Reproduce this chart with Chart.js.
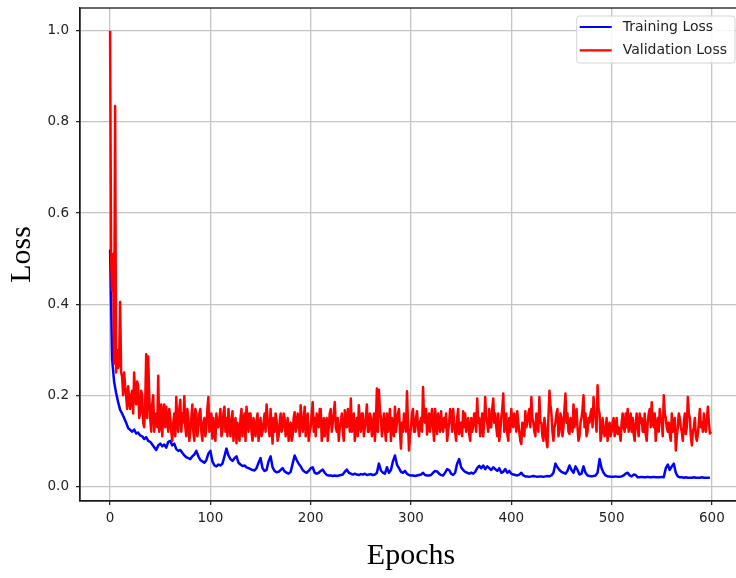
<!DOCTYPE html>
<html>
<head>
<meta charset="utf-8">
<title>Loss curves</title>
<script src="https://cdn.jsdelivr.net/npm/chart.js@4.4.0/dist/chart.umd.min.js"></script>
<style>
  html, body { margin: 0; padding: 0; background: #fff; overflow: hidden; }
  #wrap { width: 752px; height: 578px; }
</style>
</head>
<body>
<div id="wrap"><canvas id="loss-canvas" width="752" height="578"></canvas></div>
<script>
'use strict';

// training loss logged every 2 epochs, validation every epoch (both start at 0)
const TRAIN_STEP = 2;
const VAL_STEP = 1;
const X_TICKS = [0, 100, 200, 300, 400, 500, 600];
const Y_TICKS = [0, 0.2, 0.4, 0.6, 0.8, 1.0];

const TRAIN_LOSS = [
  0.52, 0.28, 0.23, 0.205, 0.185, 0.168, 0.16, 0.15, 0.14, 0.128,
  0.124, 0.12, 0.125, 0.116, 0.118, 0.112, 0.11, 0.104, 0.108, 0.1,
  0.098, 0.092, 0.086, 0.08, 0.09, 0.094, 0.088, 0.092, 0.085, 0.098,
  0.1, 0.09, 0.094, 0.082, 0.078, 0.08, 0.074, 0.068, 0.064, 0.062,
  0.06, 0.066, 0.07, 0.078, 0.066, 0.058, 0.055, 0.052, 0.058, 0.072,
  0.078, 0.055, 0.046, 0.044, 0.048, 0.046, 0.05, 0.066, 0.083, 0.068,
  0.06, 0.056, 0.062, 0.066, 0.052, 0.048, 0.045, 0.046, 0.042, 0.04,
  0.038, 0.036, 0.035, 0.04, 0.052, 0.062, 0.04, 0.034, 0.036, 0.055,
  0.066, 0.042, 0.034, 0.031, 0.032, 0.036, 0.04, 0.033, 0.03, 0.028,
  0.032, 0.05, 0.068, 0.058, 0.05, 0.044, 0.036, 0.032, 0.03, 0.034,
  0.04, 0.042, 0.03, 0.028, 0.03, 0.034, 0.037, 0.03, 0.025, 0.024,
  0.024, 0.023, 0.024, 0.023, 0.024, 0.025, 0.026, 0.032, 0.037, 0.03,
  0.028, 0.026, 0.028, 0.026, 0.025, 0.027, 0.026, 0.028, 0.025, 0.026,
  0.027, 0.025, 0.026, 0.03, 0.05, 0.035, 0.03, 0.028, 0.042, 0.03,
  0.036, 0.055, 0.068, 0.048, 0.04, 0.032, 0.03, 0.034, 0.028, 0.025,
  0.024, 0.024, 0.023, 0.024, 0.025, 0.026, 0.03, 0.025, 0.024, 0.024,
  0.025, 0.03, 0.034, 0.033, 0.028, 0.025, 0.024, 0.03, 0.038, 0.036,
  0.028, 0.025, 0.03, 0.05, 0.06, 0.042, 0.036, 0.032, 0.03, 0.028,
  0.03, 0.028, 0.032, 0.04, 0.045, 0.04, 0.046, 0.038, 0.044, 0.04,
  0.036, 0.042, 0.038, 0.034, 0.04, 0.03, 0.032, 0.038, 0.03, 0.034,
  0.028, 0.026, 0.025, 0.024, 0.026, 0.03, 0.024, 0.022, 0.022, 0.021,
  0.022, 0.023, 0.022, 0.021, 0.022, 0.022, 0.021, 0.022, 0.023, 0.022,
  0.024, 0.03, 0.05, 0.042, 0.036, 0.032, 0.03, 0.028, 0.034, 0.046,
  0.036, 0.03, 0.044, 0.036, 0.026, 0.028, 0.044, 0.03, 0.024, 0.023,
  0.022, 0.023, 0.024, 0.03, 0.06, 0.04, 0.03, 0.024, 0.022, 0.022,
  0.021, 0.021, 0.022, 0.021, 0.021, 0.022, 0.024, 0.028, 0.03, 0.024,
  0.022, 0.026, 0.025, 0.02, 0.02, 0.021, 0.02, 0.02, 0.021, 0.02,
  0.02, 0.021, 0.02, 0.02, 0.02, 0.021, 0.02, 0.04, 0.048, 0.036,
  0.044, 0.05, 0.03, 0.022, 0.02, 0.02, 0.019, 0.02, 0.019, 0.019,
  0.019, 0.02, 0.019, 0.019, 0.019, 0.02, 0.019, 0.019, 0.019, 0.019
];

const VAL_LOSS = [
  1.0, 0.5, 0.43, 0.51, 0.27, 0.835, 0.25, 0.3, 0.26, 0.27, 0.405, 0.25, 0.24, 0.2, 0.25, 0.22, 0.2, 0.17, 0.22, 0.19,
  0.17, 0.2, 0.21, 0.16, 0.25, 0.2, 0.18, 0.23, 0.22, 0.15, 0.16, 0.21, 0.2, 0.14, 0.13, 0.18, 0.29, 0.15, 0.285, 0.2,
  0.15, 0.12, 0.18, 0.2, 0.12, 0.15, 0.16, 0.13, 0.243, 0.12, 0.14, 0.18, 0.11, 0.16, 0.18, 0.13, 0.175, 0.14, 0.12, 0.17,
  0.15, 0.12, 0.1, 0.14, 0.16, 0.11, 0.196, 0.14, 0.12, 0.17, 0.19, 0.12, 0.16, 0.14, 0.198, 0.13, 0.11, 0.17, 0.15, 0.1,
  0.12, 0.15, 0.18, 0.12, 0.1, 0.17, 0.16, 0.11, 0.13, 0.16, 0.17, 0.12, 0.1, 0.14, 0.15, 0.11, 0.13, 0.17, 0.196, 0.12,
  0.14, 0.16, 0.105, 0.15, 0.12, 0.1, 0.16, 0.13, 0.13, 0.15, 0.17, 0.11, 0.12, 0.16, 0.175, 0.12, 0.15, 0.11, 0.17, 0.14,
  0.11, 0.14, 0.165, 0.1, 0.13, 0.15, 0.095, 0.14, 0.12, 0.1, 0.15, 0.17, 0.11, 0.14, 0.16, 0.1, 0.175, 0.15, 0.12, 0.16,
  0.16, 0.12, 0.1, 0.15, 0.13, 0.11, 0.145, 0.16, 0.1, 0.13, 0.15, 0.11, 0.12, 0.14, 0.16, 0.12, 0.18, 0.15, 0.13, 0.11,
  0.17, 0.13, 0.094, 0.15, 0.12, 0.16, 0.145, 0.1, 0.11, 0.14, 0.16, 0.12, 0.13, 0.16, 0.15, 0.11, 0.12, 0.15, 0.1, 0.13,
  0.14, 0.1, 0.11, 0.15, 0.163, 0.12, 0.13, 0.16, 0.15, 0.11, 0.178, 0.15, 0.12, 0.14, 0.175, 0.11, 0.14, 0.16, 0.1, 0.12,
  0.13, 0.16, 0.185, 0.12, 0.15, 0.11, 0.16, 0.14, 0.13, 0.17, 0.17, 0.1, 0.12, 0.15, 0.11, 0.14, 0.15, 0.1, 0.13, 0.16,
  0.17, 0.12, 0.14, 0.16, 0.185, 0.13, 0.12, 0.15, 0.1, 0.13, 0.14, 0.16, 0.12, 0.1, 0.167, 0.14, 0.13, 0.17, 0.15, 0.12,
  0.193, 0.12, 0.14, 0.16, 0.1, 0.13, 0.15, 0.11, 0.178, 0.14, 0.12, 0.16, 0.16, 0.11, 0.13, 0.15, 0.18, 0.12, 0.12, 0.16,
  0.15, 0.11, 0.13, 0.16, 0.1, 0.14, 0.215, 0.12, 0.212, 0.17, 0.15, 0.11, 0.13, 0.16, 0.125, 0.1, 0.16, 0.12, 0.14, 0.17,
  0.1, 0.15, 0.13, 0.11, 0.175, 0.12, 0.14, 0.16, 0.17, 0.12, 0.083, 0.14, 0.12, 0.16, 0.15, 0.12, 0.209, 0.14, 0.079, 0.11,
  0.13, 0.16, 0.17, 0.12, 0.12, 0.15, 0.165, 0.13, 0.11, 0.14, 0.15, 0.12, 0.218, 0.15, 0.14, 0.17, 0.114, 0.13, 0.16, 0.12,
  0.15, 0.17, 0.13, 0.1, 0.17, 0.14, 0.115, 0.16, 0.14, 0.12, 0.165, 0.13, 0.12, 0.15, 0.13, 0.16, 0.1, 0.12, 0.14, 0.17,
  0.16, 0.12, 0.17, 0.14, 0.12, 0.1, 0.15, 0.17, 0.115, 0.13, 0.14, 0.11, 0.165, 0.13, 0.16, 0.12, 0.13, 0.15, 0.115, 0.1,
  0.15, 0.12, 0.13, 0.16, 0.16, 0.12, 0.193, 0.14, 0.15, 0.11, 0.13, 0.16, 0.11, 0.14, 0.196, 0.15, 0.14, 0.12, 0.17, 0.13,
  0.13, 0.17, 0.193, 0.14, 0.16, 0.13, 0.11, 0.16, 0.1, 0.12, 0.15, 0.17, 0.204, 0.12, 0.13, 0.16, 0.115, 0.1, 0.15, 0.12,
  0.17, 0.14, 0.13, 0.16, 0.15, 0.12, 0.165, 0.14, 0.12, 0.1, 0.093, 0.14, 0.13, 0.11, 0.165, 0.13, 0.14, 0.16, 0.17, 0.13,
  0.196, 0.15, 0.14, 0.12, 0.11, 0.16, 0.15, 0.12, 0.196, 0.14, 0.14, 0.11, 0.1, 0.15, 0.13, 0.1, 0.086, 0.15, 0.21, 0.18,
  0.16, 0.12, 0.1, 0.13, 0.14, 0.16, 0.17, 0.11, 0.12, 0.16, 0.15, 0.11, 0.13, 0.17, 0.204, 0.14, 0.16, 0.12, 0.115, 0.15,
  0.14, 0.12, 0.18, 0.13, 0.15, 0.17, 0.13, 0.1, 0.11, 0.14, 0.15, 0.17, 0.2, 0.13, 0.16, 0.11, 0.12, 0.15, 0.14, 0.16,
  0.17, 0.13, 0.196, 0.16, 0.15, 0.12, 0.222, 0.17, 0.16, 0.1, 0.115, 0.15, 0.13, 0.11, 0.12, 0.15, 0.1, 0.13, 0.14, 0.11,
  0.12, 0.14, 0.15, 0.11, 0.13, 0.15, 0.115, 0.13, 0.12, 0.1, 0.14, 0.16, 0.13, 0.12, 0.16, 0.13, 0.17, 0.12, 0.14, 0.16,
  0.12, 0.15, 0.115, 0.1, 0.14, 0.16, 0.13, 0.11, 0.16, 0.14, 0.15, 0.12, 0.12, 0.16, 0.115, 0.1, 0.14, 0.16, 0.17, 0.13,
  0.185, 0.14, 0.13, 0.16, 0.1, 0.13, 0.15, 0.12, 0.17, 0.15, 0.14, 0.11, 0.2, 0.16, 0.15, 0.13, 0.12, 0.14, 0.115, 0.1,
  0.16, 0.12, 0.13, 0.15, 0.079, 0.11, 0.13, 0.16, 0.15, 0.13, 0.12, 0.1, 0.14, 0.16, 0.115, 0.13, 0.196, 0.16, 0.15, 0.11,
  0.09, 0.12, 0.13, 0.15, 0.11, 0.1, 0.115, 0.14, 0.17, 0.13, 0.14, 0.12, 0.16, 0.13, 0.12, 0.15, 0.175, 0.14, 0.116, 0.12
];

const toPoints = (arr, step) => arr.map((v, i) => ({ x: i * step, y: v }));

const INK = '#1a1a1a';
const GRID = '#c4c4c4';
const TICK_FONT = { family: "'DejaVu Sans', sans-serif", size: 13.5 };
const LABEL_FONT = { family: "'Liberation Serif', serif", size: 30 };

// closed box around the plot area (top/right spines)
const frame = {
  id: 'frame',
  afterDatasetsDraw(chart) {
    const { ctx, chartArea: a } = chart;
    ctx.save();
    ctx.strokeStyle = INK;
    ctx.lineWidth = 1.3;
    ctx.strokeRect(a.left, a.top, a.right - a.left, a.bottom - a.top);
    ctx.restore();
  }
};

// legend box in the upper-right corner of the plot
const boxLegend = {
  id: 'boxLegend',
  afterDraw(chart) {
    const { ctx, chartArea: a } = chart;
    const sets = chart.data.datasets;
    ctx.save();
    ctx.font = "14px 'DejaVu Sans', sans-serif";
    const textW = Math.max(...sets.map(d => ctx.measureText(d.label).width));
    const w = 3 + 32 + 11 + textW + 8, h = 47;
    const x = a.right - 7 - w, y = a.top + 8;
    ctx.beginPath();
    ctx.roundRect(x, y, w, h, 3);
    ctx.fillStyle = 'rgba(255,255,255,0.85)';
    ctx.fill();
    ctx.strokeStyle = '#d4d4d4';
    ctx.lineWidth = 1;
    ctx.stroke();
    sets.forEach((d, i) => {
      const cy = y + 11 + i * 23.3;
      ctx.beginPath();
      ctx.moveTo(x + 3, cy);
      ctx.lineTo(x + 35, cy);
      ctx.strokeStyle = d.borderColor;
      ctx.lineWidth = 2.2;
      ctx.stroke();
      ctx.fillStyle = '#222';
      ctx.textBaseline = 'middle';
      ctx.fillText(d.label, x + 46, cy);
    });
    ctx.restore();
  }
};

new Chart(document.getElementById('loss-canvas'), {
  type: 'line',
  data: {
    datasets: [
      { label: 'Training Loss', data: toPoints(TRAIN_LOSS, TRAIN_STEP), borderColor: '#0000ff',
        borderWidth: 2.5, pointRadius: 0, tension: 0, borderJoinStyle: 'round', order: 1 },
      { label: 'Validation Loss', data: toPoints(VAL_LOSS, VAL_STEP), borderColor: '#ff0000',
        borderWidth: 2.5, pointRadius: 0, tension: 0, borderJoinStyle: 'round', order: 0 }
    ]
  },
  options: {
    responsive: false,
    animation: false,
    devicePixelRatio: 1,
    layout: { padding: { left: 0, right: 10, top: 8, bottom: 0 } },
    plugins: { legend: { display: false }, tooltip: { enabled: false } },
    scales: {
      x: {
        type: 'linear', min: -30, max: 630,
        afterBuildTicks: s => { s.ticks = X_TICKS.map(v => ({ value: v })); },
        afterFit: s => { s.height = 77; s.paddingLeft = 0; s.paddingRight = 0; },
        grid: { color: GRID, lineWidth: 1.3, tickColor: INK, tickLength: 4, tickWidth: 1.2 },
        border: { color: INK, width: 1.3 },
        ticks: { color: '#222', font: TICK_FONT, padding: 5.6, maxRotation: 0,
                 callback: v => String(v) },
        title: { display: true, text: 'Epochs', color: '#000', font: LABEL_FONT,
                 padding: { top: 0, bottom: 3.5 } }
      },
      y: {
        type: 'linear', min: -0.032, max: 1.05,
        afterBuildTicks: s => { s.ticks = Y_TICKS.map(v => ({ value: v })); },
        afterFit: s => { s.width = 80; s.paddingTop = 0; s.paddingBottom = 0; },
        grid: { color: GRID, lineWidth: 1.3, tickColor: INK, tickLength: 4, tickWidth: 1.2 },
        border: { color: INK, width: 1.3 },
        ticks: { color: '#222', font: TICK_FONT, padding: 7,
                 callback: v => v.toFixed(1) },
        title: { display: true, text: 'Loss', color: '#000', font: LABEL_FONT,
                 padding: { top: 4.5, bottom: 0 } }
      }
    }
  },
  plugins: [frame, boxLegend]
});
</script>
</body>
</html>
